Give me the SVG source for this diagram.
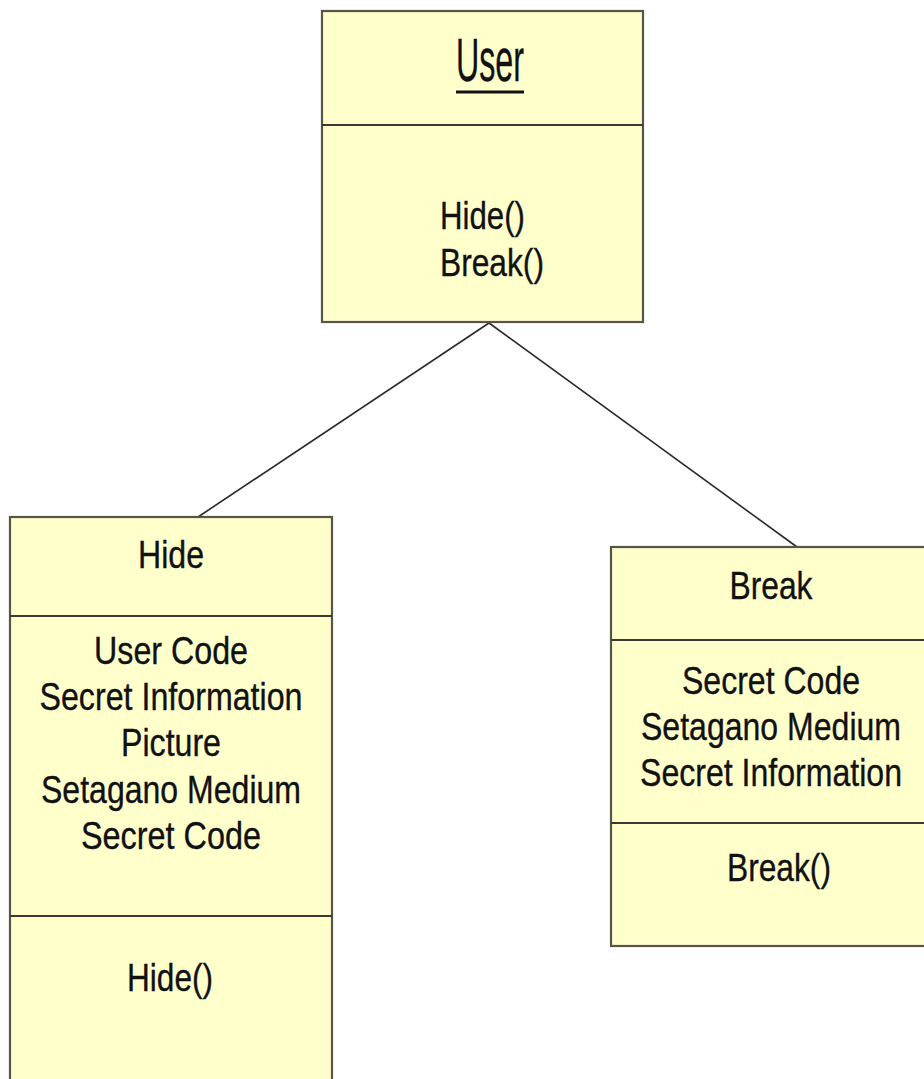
<svg xmlns="http://www.w3.org/2000/svg" width="924" height="1079" viewBox="0 0 924 1079">
  <style>
    .box { fill: #FFFFCC; stroke: #55554a; stroke-width: 2.2; }
    .sep { stroke: #3a3a33; stroke-width: 2; }
    .link { stroke: #2a2a2a; stroke-width: 1.6; fill: none; }
    text { font-family: "Liberation Sans Narrow", "Liberation Sans", Arial, sans-serif; font-size: 38px; fill: #111; stroke: #111; stroke-width: 0.35; }
    .c { text-anchor: middle; }
    .title { font-size: 61px; }
  </style>
  <rect width="924" height="1079" fill="#FFFFFF"/>

  <!-- associations from User to its two operations -->
  <g id="connectors">
    <line class="link" x1="489" y1="323" x2="198" y2="517"/>
    <line class="link" x1="489" y1="323" x2="797" y2="547"/>
  </g>

  <!-- User object -->
  <g id="user">
    <rect class="box" x="322" y="11" width="321" height="311"/>
    <line class="sep" x1="322" y1="125" x2="643" y2="125"/>
    <text class="title" x="456" y="81" textLength="68" lengthAdjust="spacingAndGlyphs">User</text>
    <line x1="456" y1="92" x2="524" y2="92" stroke="#111" stroke-width="3"/>
    <text x="440" y="229" textLength="85" lengthAdjust="spacingAndGlyphs">Hide()</text>
    <text x="440" y="276" textLength="104" lengthAdjust="spacingAndGlyphs">Break()</text>
  </g>

  <!-- Hide class -->
  <g id="hide">
    <rect class="box" x="10" y="517" width="322" height="580"/>
    <line class="sep" x1="10" y1="616" x2="332" y2="616"/>
    <line class="sep" x1="10" y1="916" x2="332" y2="916"/>
    <text class="c" x="171" y="568" textLength="66" lengthAdjust="spacingAndGlyphs">Hide</text>
    <text class="c" x="171" y="664" textLength="154" lengthAdjust="spacingAndGlyphs">User Code</text>
    <text class="c" x="171" y="710" textLength="263" lengthAdjust="spacingAndGlyphs">Secret Information</text>
    <text class="c" x="171" y="756" textLength="100" lengthAdjust="spacingAndGlyphs">Picture</text>
    <text class="c" x="171" y="803" textLength="260" lengthAdjust="spacingAndGlyphs">Setagano Medium</text>
    <text class="c" x="171" y="849" textLength="180" lengthAdjust="spacingAndGlyphs">Secret Code</text>
    <text class="c" x="170" y="991" textLength="86" lengthAdjust="spacingAndGlyphs">Hide()</text>
  </g>

  <!-- Break class -->
  <g id="break">
    <rect class="box" x="611" y="547" width="322" height="399"/>
    <line class="sep" x1="611" y1="640" x2="933" y2="640"/>
    <line class="sep" x1="611" y1="823" x2="933" y2="823"/>
    <text class="c" x="771" y="599" textLength="83" lengthAdjust="spacingAndGlyphs">Break</text>
    <text class="c" x="771" y="694" textLength="178" lengthAdjust="spacingAndGlyphs">Secret Code</text>
    <text class="c" x="771" y="740" textLength="260" lengthAdjust="spacingAndGlyphs">Setagano Medium</text>
    <text class="c" x="771" y="786" textLength="262" lengthAdjust="spacingAndGlyphs">Secret Information</text>
    <text class="c" x="779" y="881" textLength="104" lengthAdjust="spacingAndGlyphs">Break()</text>
  </g>
</svg>
